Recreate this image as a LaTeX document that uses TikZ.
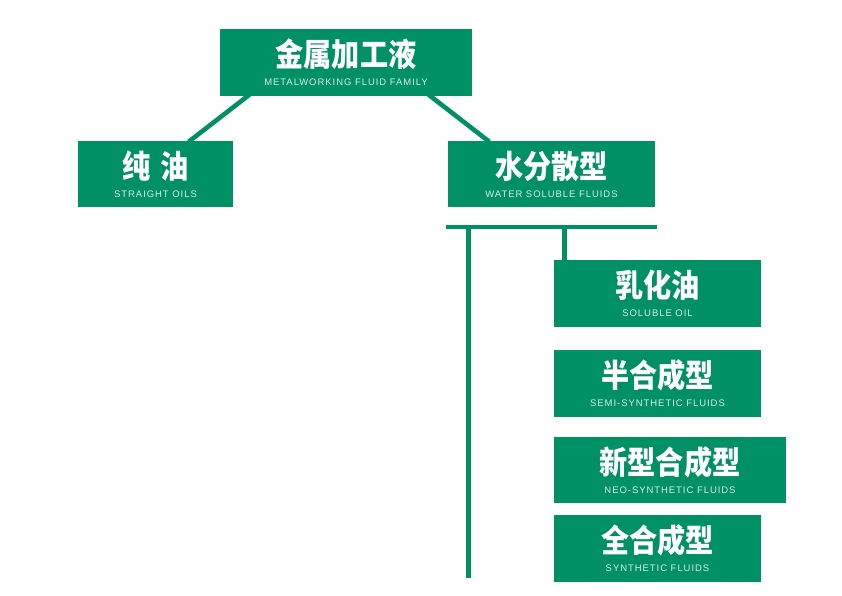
\documentclass[tikz,border=0pt]{standalone}
\usepackage{fontspec}
\usepackage{tikz}
\usetikzlibrary{positioning}
\setmainfont{Liberation Sans}
\newfontfamily\cjk[FakeStretch=0.88]{Noto Sans CJK SC}
\newfontfamily\en[LetterSpace=10]{Liberation Sans}
\definecolor{brand}{RGB}{0,144,102}
\tikzset{blk/.style={fill=brand,inner sep=0pt,minimum height=66.5pt,align=center,text=white}}
\tikzset{ln/.style={brand,line width=4.6pt}}
\newcommand{\ttl}[2]{{\cjk\bfseries\fontsize{32}{32}\selectfont #1}\\[7pt]{\en\fontsize{9.5}{10}\selectfont\color{white!85!brand}#2}}

\begin{document}
\begin{tikzpicture}[x=1pt,y=-1pt]
        \useasboundingbox (0,0) rectangle (842,595);
        \node[blk,minimum width=252pt] (fam) at (346,62.5) {\ttl{金属加工液}{METALWORKING FLUID FAMILY}};
        \node[blk,minimum width=155pt] (pure) at (155.5,174) {\ttl{纯\hspace{.3em}油}{STRAIGHT OILS}};
        \node[blk,minimum width=207pt] (water) at (551.5,174) {\ttl{水分散型}{WATER SOLUBLE FLUIDS}};
        \node[blk,minimum width=207pt] (emul) at (657.5,293.5) {\ttl{乳化油}{SOLUBLE OIL}};
        \node[blk,minimum width=207pt] (semi) at (657.5,383.5) {\ttl{半合成型}{SEMI-SYNTHETIC FLUIDS}};
        \node[blk,minimum width=232pt] (neo) at (670,470) {\ttl{新型合成型}{NEO-SYNTHETIC FLUIDS}};
        \node[blk,minimum width=207pt] (syn) at (657.5,548.5) {\ttl{全合成型}{SYNTHETIC FLUIDS}};

        \coordinate (barl) at ([yshift=-19.5pt]water.south west);
        \coordinate (barr) at ([yshift=-19.5pt]water.south east);
        \coordinate (bot) at (468.5,578);

        \draw [ln,shorten <=-2pt,shorten >=-2pt] ([xshift=28pt]fam.south west) to []node[]{} ([xshift=-43pt]pure.north east);
        \draw [ln,shorten <=-2pt,shorten >=-2pt] ([xshift=-42pt]fam.south east) to []node[]{} ([xshift=40pt]water.north west);
        \draw [ln,shorten <=-1.5pt,shorten >=-2pt] (barl) to []node[]{} (barr);
        \draw [ln] (barl -| bot) to []node[]{} (bot);
        \draw [ln] ([xshift=10.5pt]emul.north west |- barl) to []node[]{} ([xshift=10.5pt]emul.north west);
    \end{tikzpicture}
\end{document}
